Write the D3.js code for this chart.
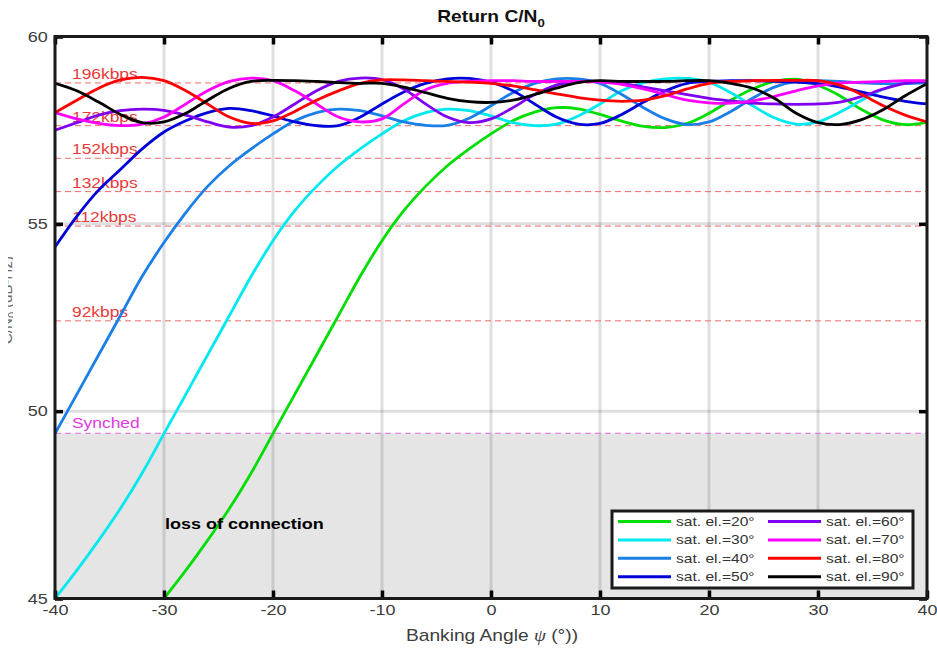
<!DOCTYPE html>
<html>
<head>
<meta charset="utf-8">
<script src="https://cdn.jsdelivr.net/npm/d3@7"></script>
<style>
  body { margin: 0; background: #fff; }
  text { font-family: "Liberation Sans", Arial, sans-serif; }
</style>
</head>
<body>
<div id="chart"></div>
<script>
// Data (banking angle in degrees, C/N0 in dB-Hz)
const angles = [-40, -38, -36, -34, -32, -30, -28, -26, -24, -22, -20, -18, -16, -14, -12, -10, -8, -6, -4, -2,
  0, 2, 4, 6, 8, 10, 12, 14, 16, 18, 20, 22, 24, 26, 28, 30, 32, 34, 36, 38, 40];

const el20 = [null, null, null, null, null, 45.0, 45.75, 46.55, 47.4, 48.35, 49.4, 50.45, 51.5, 52.55, 53.6,
  54.55, 55.35, 56.0, 56.55, 57.0, 57.4, 57.75, 57.98, 58.1, 58.07, 57.92, 57.74, 57.6, 57.57, 57.68,
  57.95, 58.3, 58.6, 58.8, 58.86, 58.7, 58.42, 58.05, 57.77, 57.65, 57.71];
const el30 = [45.0, 45.75, 46.55, 47.4, 48.35, 49.4, 50.45, 51.5, 52.55, 53.6, 54.55, 55.35, 56.0, 56.55, 57.0,
  57.4, 57.75, 57.97, 58.06, 58.02, 57.88, 57.7, 57.62, 57.66, 57.88, 58.2, 58.55, 58.77, 58.87, 58.88,
  58.78, 58.5, 58.15, 57.83, 57.66, 57.72, 57.98, 58.3, 58.6, 58.76, 58.8];
const el40 = [49.4, 50.45, 51.5, 52.55, 53.6, 54.5, 55.3, 56.0, 56.55, 57.0, 57.4, 57.75, 57.97, 58.06, 58.02,
  57.88, 57.72, 57.63, 57.63, 57.82, 58.15, 58.5, 58.75, 58.87, 58.87, 58.75, 58.45, 58.1, 57.8, 57.65,
  57.72, 58.0, 58.35, 58.65, 58.8, 58.82, 58.8, 58.76, 58.74, 58.74, 58.76];
const el50 = [54.38, 55.2, 55.9, 56.45, 57.0, 57.45, 57.75, 57.97, 58.08, 58.02, 57.88, 57.72, 57.62, 57.62, 57.85,
  58.2, 58.52, 58.75, 58.87, 58.88, 58.78, 58.55, 58.2, 57.85, 57.66, 57.68, 57.92, 58.25, 58.55, 58.75,
  58.8, 58.82, 58.82, 58.8, 58.78, 58.74, 58.65, 58.52, 58.38, 58.27, 58.2];
const el60 = [57.5, 57.7, 57.9, 58.02, 58.06, 58.03, 57.9, 57.72, 57.58, 57.62, 57.85, 58.2, 58.55, 58.8, 58.89,
  58.85, 58.6, 58.2, 57.85, 57.7, 57.8, 58.1, 58.45, 58.7, 58.8, 58.8, 58.74, 58.65, 58.55, 58.45,
  58.35, 58.28, 58.22, 58.2, 58.19, 58.2, 58.25, 58.4, 58.6, 58.75, 58.8];
const el70 = [57.97, 57.8, 57.68, 57.62, 57.66, 57.85, 58.2, 58.55, 58.8, 58.89, 58.82, 58.55, 58.2, 57.85, 57.72,
  57.8, 58.2, 58.58, 58.75, 58.8, 58.82, 58.82, 58.8, 58.8, 58.8, 58.78, 58.72, 58.6, 58.45, 58.3,
  58.23, 58.22, 58.28, 58.4, 58.55, 58.68, 58.76, 58.78, 58.8, 58.82, 58.82];
const el80 = [57.97, 58.3, 58.62, 58.84, 58.91, 58.82, 58.55, 58.2, 57.85, 57.68, 57.75, 58.0, 58.3, 58.55, 58.75,
  58.84, 58.84, 58.82, 58.8, 58.78, 58.75, 58.68, 58.58, 58.47, 58.37, 58.3, 58.27, 58.3, 58.42, 58.6,
  58.75, 58.8, 58.82, 58.83, 58.83, 58.82, 58.7, 58.45, 58.15, 57.9, 57.72];
const el90 = [58.75, 58.55, 58.25, 57.92, 57.7, 57.72, 57.95, 58.3, 58.62, 58.8, 58.83, 58.82, 58.8, 58.77, 58.75,
  58.75, 58.65, 58.5, 58.35, 58.26, 58.24, 58.3, 58.45, 58.62, 58.77, 58.82, 58.8, 58.8, 58.8, 58.82,
  58.82, 58.75, 58.62, 58.35, 57.95, 57.7, 57.65, 57.78, 58.05, 58.42, 58.74];

const seriesNames = ['sat. el.=20°', 'sat. el.=30°', 'sat. el.=40°', 'sat. el.=50°',
  'sat. el.=60°', 'sat. el.=70°', 'sat. el.=80°', 'sat. el.=90°'];
const seriesValues = [el20, el30, el40, el50, el60, el70, el80, el90];
const seriesColors = ['#00dd00', '#00e8f0', '#1a7fe6', '#0000d8', '#7f00f0', '#ff00ff', '#ff0000', '#000000'];

const rateLabels = ['196kbps', '172kbps', '152kbps', '132kbps', '112kbps', '92kbps'];
const rateLevels = [58.76, 57.62, 56.75, 55.86, 54.94, 52.41];
const syncLabel = 'Synched';
const syncLevel = 49.41;

const xTicks = [-40, -30, -20, -10, 0, 10, 20, 30, 40];
const yTicks = [45, 50, 55, 60];

// Layout
const width = 937, height = 650;
const plot = { left: 55, right: 927, top: 36.5, bottom: 598.5 };
const SX = 1.2; // the reference text is stretched horizontally

const svg = d3.select('#chart').append('svg')
  .attr('width', width)
  .attr('height', height);

svg.append('rect').attr('width', width).attr('height', height).attr('fill', '#fff');

const x = d3.scaleLinear().domain([-40, 40]).range([plot.left, plot.right]);
const y = d3.scaleLinear().domain([45, 60]).range([plot.bottom, plot.top]);

svg.append('defs').append('clipPath').attr('id', 'plot-clip')
  .append('rect')
  .attr('x', plot.left).attr('y', plot.top)
  .attr('width', plot.right - plot.left).attr('height', plot.bottom - plot.top);

// helper: stretched text at a point
function wideText(parent, px, py, str) {
  return parent.append('text')
    .attr('transform', `translate(${px},${py}) scale(${SX},1)`)
    .text(str);
}

// Grey "loss of connection" zone
svg.append('rect')
  .attr('x', plot.left).attr('y', y(syncLevel))
  .attr('width', plot.right - plot.left).attr('height', y(45) - y(syncLevel))
  .attr('fill', '#e5e5e5');

// Grid
const grid = svg.append('g').attr('stroke', '#262626').attr('stroke-opacity', 0.15).attr('stroke-width', 3);
grid.selectAll('.vgrid').data(xTicks.slice(1, -1)).enter().append('line')
  .attr('x1', d => x(d)).attr('x2', d => x(d)).attr('y1', plot.top).attr('y2', plot.bottom);
grid.selectAll('.hgrid').data(yTicks.slice(1, -1)).enter().append('line')
  .attr('x1', plot.left).attr('x2', plot.right).attr('y1', d => y(d)).attr('y2', d => y(d));

// Data-rate thresholds
const thr = svg.append('g');
thr.selectAll('line').data(rateLevels).enter().append('line')
  .attr('x1', plot.left).attr('x2', plot.right)
  .attr('y1', d => y(d)).attr('y2', d => y(d))
  .attr('stroke', '#f06a6a').attr('stroke-width', 1).attr('stroke-dasharray', '6,4');
rateLabels.forEach((lab, i) => {
  wideText(thr, 72, y(rateLevels[i]) - 4, lab)
    .attr('fill', '#e83a3a').style('font-size', '14.5px');
});
thr.append('line')
  .attr('x1', plot.left).attr('x2', plot.right)
  .attr('y1', y(syncLevel)).attr('y2', y(syncLevel))
  .attr('stroke', '#e46ae4').attr('stroke-width', 1).attr('stroke-dasharray', '6,4');
wideText(thr, 72, y(syncLevel) - 5, syncLabel)
  .attr('fill', '#e03ae0').style('font-size', '14.5px');

// Curves
const line = d3.line()
  .defined(d => d[1] != null)
  .x(d => x(d[0]))
  .y(d => y(d[1]))
  .curve(d3.curveCatmullRom.alpha(0.5));

svg.append('g').attr('clip-path', 'url(#plot-clip)')
  .selectAll('path')
  .data(seriesValues.map((vals, i) => ({ pts: angles.map((a, j) => [a, vals[j]]), color: seriesColors[i] })))
  .enter().append('path')
  .attr('fill', 'none')
  .attr('stroke', d => d.color)
  .attr('stroke-width', 2.8)
  .attr('stroke-linejoin', 'round')
  .attr('d', d => line(d.pts));

wideText(svg, 165, 529, 'loss of connection')
  .attr('fill', '#000').style('font-size', '15px').style('font-weight', 'bold');

// Axes
function styleAxis(g, labels) {
  g.select('.domain').remove();
  g.selectAll('line').attr('stroke', '#000').attr('stroke-width', 3.5);
  g.selectAll('text')
    .attr('fill', '#3c3c3c')
    .style('font-size', '15px')
    .style('font-family', '"Liberation Sans", Arial, sans-serif')
    .attr('transform', `scale(${SX},1)`);
  if (!labels) g.selectAll('text').remove();
}
const plainNum = d => String(d); // hyphen-minus like the reference
svg.append('g').attr('transform', `translate(0,${plot.bottom})`)
  .call(d3.axisBottom(x).tickValues(xTicks).tickFormat(plainNum).tickSizeInner(-8).tickSizeOuter(0).tickPadding(6))
  .call(g => styleAxis(g, true));
svg.append('g').attr('transform', `translate(0,${plot.top})`)
  .call(d3.axisTop(x).tickValues(xTicks).tickSizeInner(-8).tickSizeOuter(0))
  .call(g => styleAxis(g, false));
svg.append('g').attr('transform', `translate(${plot.left},0)`)
  .call(d3.axisLeft(y).tickValues(yTicks).tickFormat(plainNum).tickSizeInner(-8).tickSizeOuter(0).tickPadding(6))
  .call(g => styleAxis(g, true));
svg.append('g').attr('transform', `translate(${plot.right},0)`)
  .call(d3.axisRight(y).tickValues(yTicks).tickSizeInner(-8).tickSizeOuter(0))
  .call(g => styleAxis(g, false));

svg.append('rect')
  .attr('x', plot.left).attr('y', plot.top)
  .attr('width', plot.right - plot.left).attr('height', plot.bottom - plot.top)
  .attr('fill', 'none').attr('stroke', '#1a1a1a').attr('stroke-width', 3);

// Legend
const legend = svg.append('g');
legend.append('rect')
  .attr('x', 612).attr('y', 511).attr('width', 301).attr('height', 77)
  .attr('fill', '#fff').attr('stroke', '#1a1a1a').attr('stroke-width', 3);
seriesNames.forEach((name, i) => {
  const col = Math.floor(i / 4), row = i % 4;
  const lx = 618 + col * 150, ly = 521.5 + row * 18.4;
  legend.append('line')
    .attr('x1', lx).attr('x2', lx + 53).attr('y1', ly).attr('y2', ly)
    .attr('stroke', seriesColors[i]).attr('stroke-width', 3);
  wideText(legend, lx + 58, ly + 4.5, name)
    .attr('fill', '#333').style('font-size', '13px');
});

// Title and axis labels
const title = svg.append('text')
  .attr('transform', `translate(491,22) scale(${SX},1)`)
  .attr('text-anchor', 'middle')
  .style('font-size', '16px').style('font-weight', 'bold').attr('fill', '#111');
title.append('tspan').text('Return C/N');
title.append('tspan').text('0').attr('dy', 5).style('font-size', '11px');

const xl = svg.append('text')
  .attr('transform', `translate(492,641) scale(${SX},1)`)
  .attr('text-anchor', 'middle')
  .style('font-size', '16px').attr('fill', '#3c3c3c');
xl.append('tspan').text('Banking Angle ');
xl.append('tspan').text('ψ').style('font-style', 'italic').style('font-family', '"Liberation Serif", serif');
xl.append('tspan').text(' (°))');

// y label is cut off at the left edge of the reference; only a thin sliver shows
svg.append('clipPath').attr('id', 'ylab-clip')
  .append('rect').attr('x', 8).attr('y', 0).attr('width', 5).attr('height', height);
const yl = svg.append('g').attr('clip-path', 'url(#ylab-clip)')
  .append('text')
  .attr('transform', 'translate(12,300) rotate(-90)')
  .attr('text-anchor', 'middle')
  .style('font-size', '15px').attr('fill', '#6a6a6a');
yl.append('tspan').text('C/N');
yl.append('tspan').text('0').attr('dy', 4).style('font-size', '11px');
yl.append('tspan').text(' (dB-Hz)').attr('dy', -4);
</script>
</body>
</html>
